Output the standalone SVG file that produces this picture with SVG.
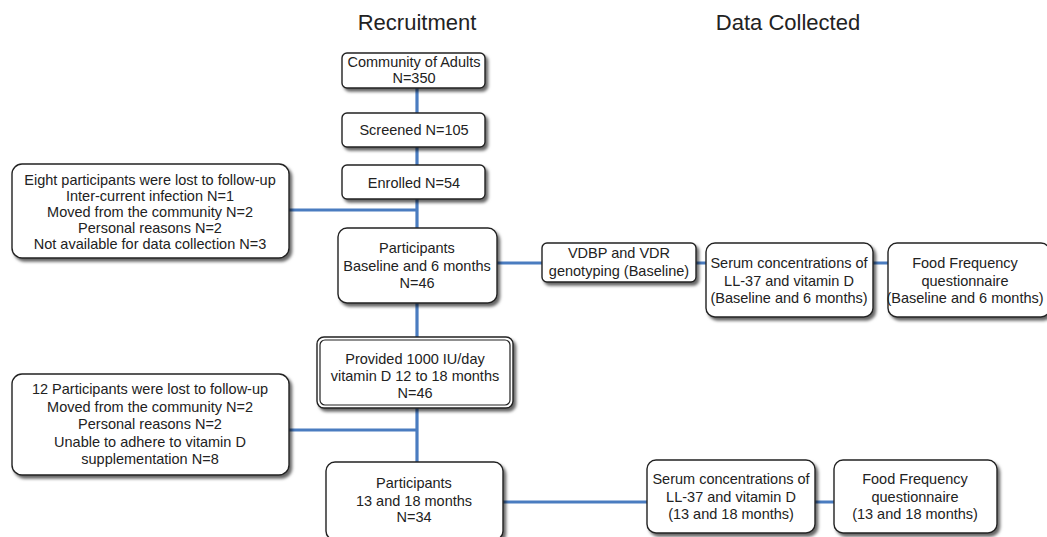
<svg xmlns="http://www.w3.org/2000/svg" width="1047" height="537" viewBox="0 0 1047 537">
<defs>
<filter id="sh" x="-10%" y="-10%" width="130%" height="140%">
<feDropShadow dx="2.5" dy="3" stdDeviation="1.8" flood-color="#000" flood-opacity="0.6"/>
</filter>
<style>
.box{fill:#fff;stroke:#222;stroke-width:1.4;filter:url(#sh)}
.t{font-family:"Liberation Sans",Arial,sans-serif;font-size:14.5px;fill:#222;text-anchor:middle}
.h{font-family:"Liberation Sans",Arial,sans-serif;font-size:22px;fill:#222;text-anchor:middle}
.c{stroke:#4a7cc0;stroke-width:3.2;fill:none}
</style>
</defs>
<rect width="1047" height="537" fill="#fff"/>
<text class="h" x="417" y="30">Recruitment</text>
<text class="h" x="788" y="30">Data Collected</text>
<g id="connectors">
<line class="c" x1="417" y1="88" x2="417" y2="463"/>
<line class="c" x1="289" y1="210" x2="417" y2="210"/>
<line class="c" x1="289" y1="430" x2="417" y2="430"/>
<line class="c" x1="497" y1="263" x2="888" y2="263"/>
<line class="c" x1="503" y1="502" x2="834" y2="502"/>
</g>
<g id="community">
<rect class="box" x="342" y="53" width="143" height="35" rx="5"/>
<text class="t" x="414" y="67">Community of Adults</text>
<text class="t" x="414" y="83">N=350</text>
</g>
<g id="screened">
<rect class="box" x="342" y="113" width="143" height="34" rx="5"/>
<text class="t" x="414" y="135">Screened N=105</text>
</g>
<g id="enrolled">
<rect class="box" x="342" y="165" width="143" height="34" rx="5"/>
<text class="t" x="414" y="188">Enrolled N=54</text>
</g>
<g id="lost8">
<rect class="box" x="12" y="164" width="277" height="94" rx="10"/>
<text class="t" x="150" y="185">Eight participants were lost to follow-up</text>
<text class="t" x="150" y="201">Inter-current infection N=1</text>
<text class="t" x="150" y="217">Moved from the community N=2</text>
<text class="t" x="150" y="233">Personal reasons N=2</text>
<text class="t" x="150" y="249">Not available for data collection N=3</text>
</g>
<g id="participants-baseline">
<rect class="box" x="338" y="228" width="159" height="75" rx="9"/>
<text class="t" x="417" y="253">Participants</text>
<text class="t" x="417" y="271">Baseline and 6 months</text>
<text class="t" x="417" y="288">N=46</text>
</g>
<g id="genotyping">
<rect class="box" x="542" y="243" width="154" height="39" rx="5"/>
<text class="t" x="619" y="258">VDBP and VDR</text>
<text class="t" x="619" y="276">genotyping (Baseline)</text>
</g>
<g id="serum1">
<rect class="box" x="706" y="243" width="167" height="74" rx="9"/>
<text class="t" x="789" y="268">Serum concentrations of</text>
<text class="t" x="789" y="286">LL-37 and vitamin D</text>
<text class="t" x="789" y="303">(Baseline and 6 months)</text>
</g>
<g id="ffq1">
<rect class="box" x="888" y="243" width="162" height="74" rx="9"/>
<text class="t" x="965" y="268">Food Frequency</text>
<text class="t" x="965" y="286">questionnaire</text>
<text class="t" x="965" y="303">(Baseline and 6 months)</text>
</g>
<g id="provided">
<rect class="box" x="317" y="337" width="196" height="71" rx="7"/>
<rect x="320" y="340" width="190" height="65" rx="5" fill="none" stroke="#222" stroke-width="1.2"/>
<text class="t" x="415" y="364">Provided 1000 IU/day</text>
<text class="t" x="415" y="381">vitamin D 12 to 18 months</text>
<text class="t" x="415" y="398">N=46</text>
</g>
<g id="lost12">
<rect class="box" x="12" y="374" width="277" height="101" rx="10"/>
<text class="t" x="150" y="394">12 Participants were lost to follow-up</text>
<text class="t" x="150" y="412">Moved from the community N=2</text>
<text class="t" x="150" y="429">Personal reasons N=2</text>
<text class="t" x="150" y="447">Unable to adhere to vitamin D</text>
<text class="t" x="150" y="464">supplementation N=8</text>
</g>
<g id="participants-13-18">
<rect class="box" x="326" y="462" width="177" height="78" rx="9"/>
<text class="t" x="414" y="488">Participants</text>
<text class="t" x="414" y="506">13 and 18 months</text>
<text class="t" x="414" y="522">N=34</text>
</g>
<g id="serum2">
<rect class="box" x="647" y="460" width="168" height="73" rx="9"/>
<text class="t" x="731" y="484">Serum concentrations of</text>
<text class="t" x="731" y="502">LL-37 and vitamin D</text>
<text class="t" x="731" y="519">(13 and 18 months)</text>
</g>
<g id="ffq2">
<rect class="box" x="834" y="460" width="163" height="73" rx="9"/>
<text class="t" x="915" y="484">Food Frequency</text>
<text class="t" x="915" y="502">questionnaire</text>
<text class="t" x="915" y="519">(13 and 18 months)</text>
</g>
</svg>
